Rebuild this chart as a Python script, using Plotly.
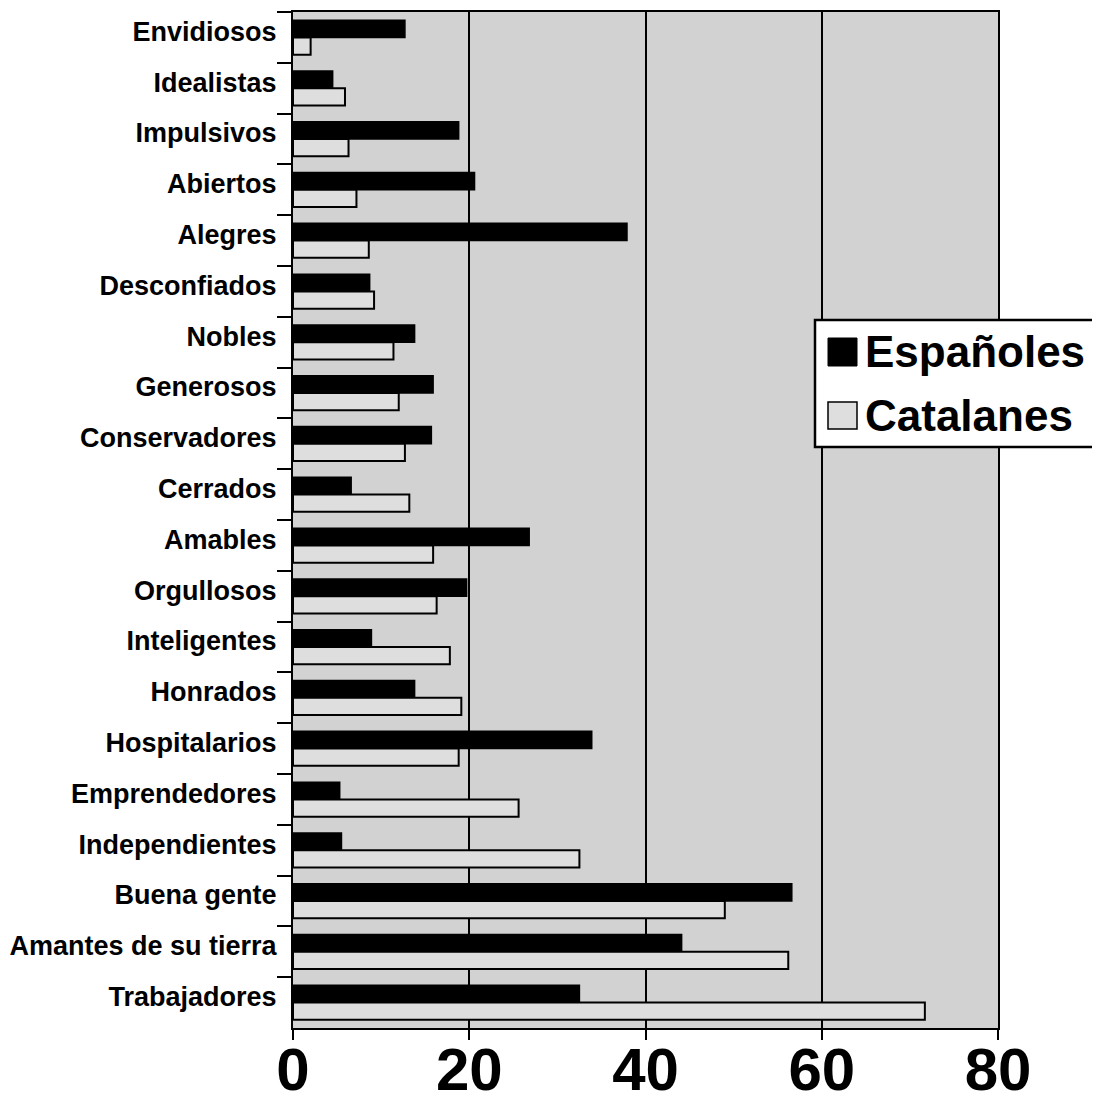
import plotly.graph_objects as go

categories = ["Envidiosos", "Idealistas", "Impulsivos", "Abiertos", "Alegres",
              "Desconfiados", "Nobles", "Generosos", "Conservadores", "Cerrados",
              "Amables", "Orgullosos", "Inteligentes", "Honrados", "Hospitalarios",
              "Emprendedores", "Independientes", "Buena gente", "Amantes de su tierra",
              "Trabajadores"]
espanoles = [12.7, 4.5, 18.8, 20.6, 37.9, 8.7, 13.8, 15.9, 15.7, 6.6,
             26.8, 19.7, 8.9, 13.8, 33.9, 5.3, 5.5, 56.6, 44.1, 32.5]
catalanes = [2.0, 5.9, 6.3, 7.2, 8.6, 9.2, 11.4, 12.0, 12.7, 13.2,
             15.9, 16.3, 17.8, 19.1, 18.8, 25.6, 32.5, 49.0, 56.2, 71.7]
x_ticks = [0, 20, 40, 60, 80]
series_names = ["Españoles", "Catalanes"]

BLACK = "#000000"
LIGHT = "#dedede"
WALL = "#d2d2d2"

fig = go.Figure()
fig.add_trace(go.Bar(y=categories, x=espanoles, orientation="h", name=series_names[0],
                     marker=dict(color=BLACK, line=dict(color=BLACK, width=1.5))))
fig.add_trace(go.Bar(y=categories, x=catalanes, orientation="h", name=series_names[1],
                     marker=dict(color=LIGHT, line=dict(color=BLACK, width=2))))

# page has an 8px body margin
OFF = 8
L, T = 285, 4
W, H = 705, 1016
R = 1100 - L - W
B = 1107 - T - H
X0, Y1 = OFF + L, OFF + T + H


def px(x):
    return (x - X0) / W


def py(y):
    return (Y1 - y) / H


shapes = [
    dict(type="rect", xref="paper", yref="paper", x0=px(815), x1=1.3, y0=py(447), y1=py(320),
         fillcolor="white", line=dict(color=BLACK, width=2.5), layer="above"),
    dict(type="rect", xref="paper", yref="paper", x0=px(828), x1=px(857), y0=py(366), y1=py(338),
         fillcolor=BLACK, line=dict(color=BLACK, width=1), layer="above"),
    dict(type="rect", xref="paper", yref="paper", x0=px(828), x1=px(857), y0=py(429), y1=py(402),
         fillcolor=LIGHT, line=dict(color=BLACK, width=1.5), layer="above"),
]
legend_font = dict(family="Liberation Sans, Arial, sans-serif", size=44, color=BLACK, weight="bold")
annotations = [
    dict(xref="paper", yref="paper", x=px(863), y=py(352), text=series_names[0], showarrow=False,
         xanchor="left", yanchor="middle", font=legend_font),
    dict(xref="paper", yref="paper", x=px(863), y=py(416), text=series_names[1], showarrow=False,
         xanchor="left", yanchor="middle", font=legend_font),
]

fig.update_layout(
    width=1100, height=1107,
    margin=dict(l=L, r=R, t=T, b=B, autoexpand=False),
    paper_bgcolor="white", plot_bgcolor=WALL,
    barmode="group", bargap=0.32, bargroupgap=0.0,
    showlegend=False,
    shapes=shapes, annotations=annotations,
    xaxis=dict(range=[0, 80], tickvals=x_ticks, ticktext=[str(v) for v in x_ticks],
               showgrid=True, gridcolor=BLACK, gridwidth=2, zeroline=False,
               showline=True, linecolor=BLACK, linewidth=2, mirror=True,
               ticks="outside", ticklen=10, tickwidth=2, tickcolor=BLACK,
               ticklabelstandoff=-22,
               tickfont=dict(family="Liberation Sans, Arial, sans-serif",
                             size=60, color=BLACK, weight="bold"),
               automargin=False),
    yaxis=dict(autorange="reversed", type="category",
               showline=True, linecolor=BLACK, linewidth=2, mirror=True,
               showgrid=False, ticks="outside", tickson="boundaries", ticklen=14, tickwidth=2,
               tickcolor=BLACK, ticklabelstandoff=9, ticklabelshift=6,
               tickfont=dict(family="Liberation Sans, Arial, sans-serif", size=27, color=BLACK,
                             weight="bold"),
               automargin=False),
)

fig.write_html("out.html")
